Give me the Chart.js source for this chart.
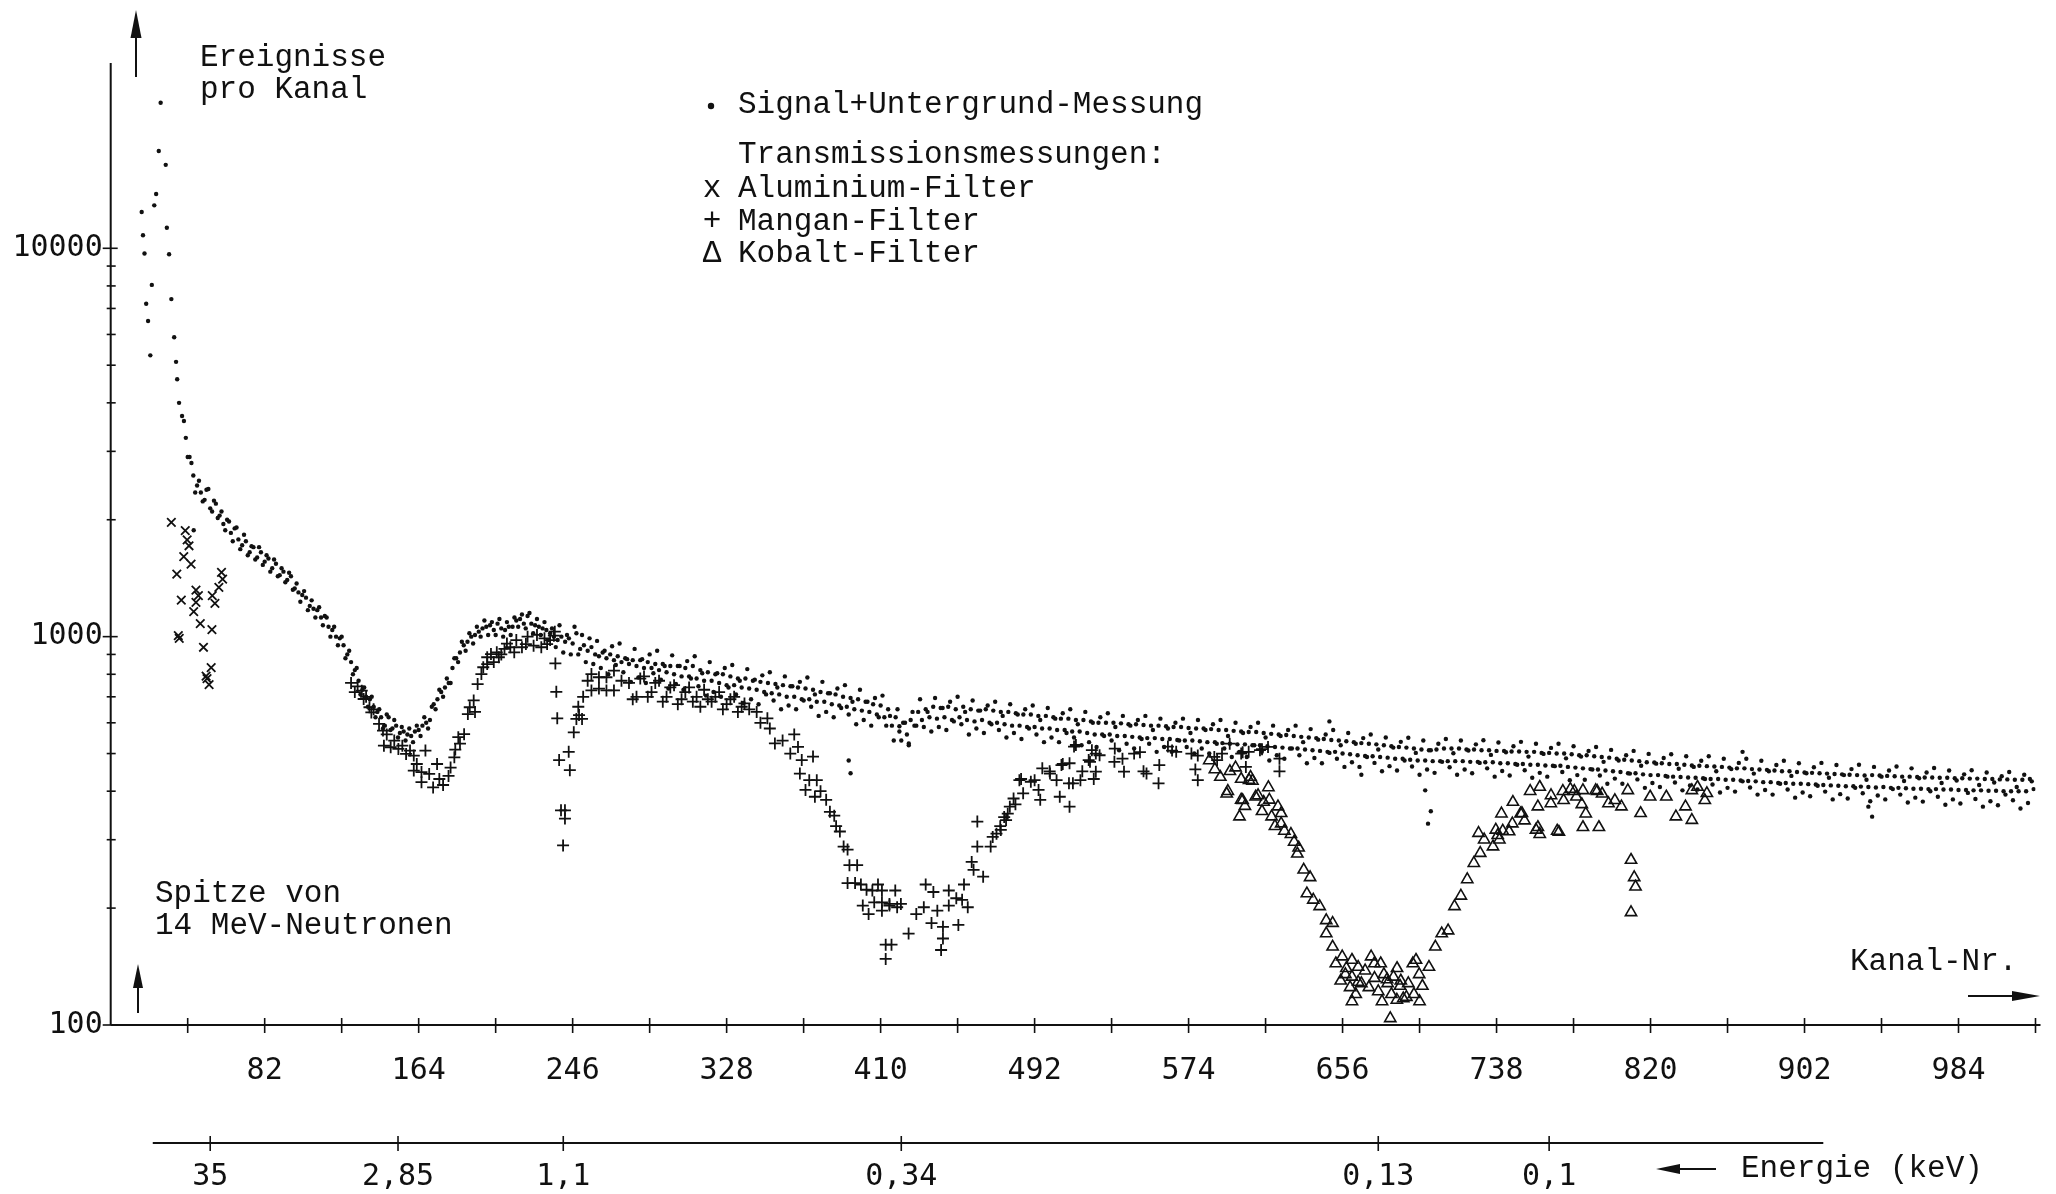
<!DOCTYPE html>
<html lang="de">
<head>
    <meta charset="UTF-8">
    <title>Ereignisse pro Kanal</title>
    <style>
        body {
            margin: 0;
            background: #fff;
        }

        canvas {
            display: block;
        }
    </style>
</head>
<body>
    <canvas id="spektrum" width="2056" height="1194"></canvas>

    <script src="https://cdn.jsdelivr.net/npm/chart.js"></script>
    <script>
        // Signal+Untergrund: Spitze (14 MeV) als Einzelpunkte
        const sigPeakCh = [16.5, 17.2, 18.0, 18.9, 19.9, 21.1, 21.9, 23.2, 24.2, 25.6, 26.6, 29.3, 29.9, 31.1, 32.3, 33.8, 34.8, 35.4, 36.4];
        const sigPeakVal = [12400, 10800, 9700, 7200, 6500, 5300, 8050, 12900, 13800, 17800, 23700, 16400, 11300, 9650, 7400, 5900, 5100, 4600, 4000];

        // Signal+Untergrund, gerade Kanaele ab 38
        const sigEvenStart = 38;
        const sigEvenVal = [
            3700, 3250, 2900, 2600, 2450, 2350, 2250, 2400, 2100, 2200,
            2050, 1950, 2000, 1850, 1900, 1780, 1720, 1760, 1650, 1700,
            1600, 1650, 1560, 1590, 1500, 1540, 1440, 1470, 1400, 1430,
            1330, 1300, 1280, 1260, 1200, 1180, 1170, 1120, 1130, 1060,
            1040, 1000, 990, 950, 900, 860, 820, 770, 730, 700,
            690, 660, 640, 620, 590, 620, 580, 590, 565, 570,
            560, 555, 570, 575, 590, 600, 610, 670, 690, 720,
            740, 760, 830, 880, 910, 950, 970, 1000, 1010, 1030,
            1050, 1060, 1070, 1040, 1080, 1050, 1040, 1060, 1060, 1100,
            1110, 1080, 1130, 1080, 1070, 1060, 1050, 1040, 1020, 1000,
            980, 1000, 970, 990, 960, 1020, 930, 950, 920, 940,
            900, 890, 910, 880, 900, 870, 890, 860, 880, 850,
            870, 840, 870, 830, 860, 830, 850, 820, 850, 810,
            840, 800, 840, 790, 830, 790, 840, 780, 820, 770,
            810, 770, 800, 760, 800, 750, 790, 750, 780, 740,
            780, 735, 770, 730, 765, 720, 760, 715, 755, 710,
            750, 700, 745, 700, 740, 690, 735, 690, 730, 680,
            720, 680, 715, 670, 710, 665, 700, 660, 695, 650,
            690, 645, 680, 640, 670, 630, 665, 620, 650, 590,
            620, 570, 600, 560, 610, 590, 640, 610, 650, 620,
            660, 615, 655, 620, 660, 610, 650, 620, 660, 610,
            650, 605, 645, 610, 650, 600, 645, 600, 640, 595,
            640, 590, 635, 590, 630, 585, 630, 585, 625, 580,
            625, 580, 620, 575, 615, 575, 615, 570, 610, 570,
            610, 565, 605, 560, 600, 560, 600, 560, 600, 555,
            598, 555, 595, 552, 595, 550, 592, 548, 590, 548,
            590, 545, 588, 545, 585, 542, 585, 540, 582, 540,
            580, 538, 580, 535, 578, 535, 575, 532, 575, 530,
            572, 528, 570, 528, 568, 525, 568, 525, 565, 522,
            562, 520, 560, 518, 558, 515, 555, 515, 552, 512,
            550, 510, 548, 508, 545, 505, 542, 505, 540, 500,
            538, 498, 535, 495, 532, 493, 530, 492, 528, 490,
            525, 488, 522, 485, 520, 485, 518, 482, 515, 480,
            512, 480, 510, 478, 512, 478, 515, 478, 515, 478,
            515, 478, 512, 476, 512, 476, 510, 475, 510, 475,
            508, 472, 508, 472, 506, 470, 506, 470, 505, 468,
            505, 468, 502, 466, 502, 465, 500, 465, 500, 462,
            498, 460, 495, 458, 495, 456, 492, 455, 490, 452,
            488, 450, 485, 448, 482, 445, 480, 445, 478, 442,
            475, 440, 474, 440, 472, 438, 470, 436, 470, 435,
            468, 434, 466, 433, 465, 432, 464, 430, 463, 430,
            462, 428, 460, 428, 458, 426, 458, 425, 456, 424,
            455, 422, 454, 422, 452, 420, 450, 420, 450, 418,
            448, 418, 447, 417, 446, 416, 445, 415, 444, 414,
            443, 413, 442, 412, 441, 412, 440, 411, 439, 410,
            440, 409, 439, 410, 438, 408, 437, 408, 436, 407,
            436, 406, 435, 406, 434, 405, 434, 405, 433, 404,
            433, 404, 432, 403, 432, 403, 431, 402, 431, 402,
            430, 401, 430, 401, 429, 400, 429, 400, 428, 400,
            428, 400, 430, 405
        ];

        // Signal+Untergrund, ungerade Kanaele ab 39
        const sigOddStart = 39;
        const sigOddVal = [
            3590, 2900, 2800, 2350, 2520, 2230, 2390, 2140, 2240, 2020,
            2100, 1880, 1980, 1760, 1910, 1680, 1830, 1620, 1710, 1580,
            1700, 1530, 1620, 1470, 1580, 1430, 1500, 1380, 1460, 1320,
            1370, 1230, 1310, 1170, 1240, 1120, 1190, 1070, 1120, 1000,
            1060, 950, 1000, 880, 920, 800, 830, 710, 740, 660,
            700, 620, 650, 580, 630, 575, 610, 550, 585, 540,
            580, 535, 590, 555, 620, 580, 660, 650, 730, 700,
            780, 760, 880, 860, 970, 920, 1020, 960, 1060, 1000,
            1100, 1010, 1090, 1010, 1110, 1000, 1090, 1010, 1120, 1060,
            1140, 1050, 1150, 1020, 1110, 1010, 1090, 980, 1050, 940,
            1070, 910, 1010, 900, 1060, 900, 1010, 860, 990, 850,
            975, 830, 920, 800, 945, 845, 960, 810, 875, 765,
            930, 785, 875, 760, 900, 805, 920, 775, 840, 735,
            895, 755, 840, 730, 865, 780, 890, 745, 805, 705,
            860, 720, 805, 700, 830, 740, 845, 710, 770, 675,
            825, 690, 775, 670, 795, 710, 810, 685, 740, 650,
            790, 665, 745, 650, 765, 685, 785, 660, 710, 625,
            765, 640, 715, 620, 735, 655, 750, 630, 680, 595,
            730, 610, 680, 590, 695, 620, 705, 590, 625, 540,
            650, 540, 600, 525, 640, 590, 690, 585, 640, 570,
            695, 585, 655, 575, 680, 605, 700, 595, 640, 560,
            685, 580, 645, 565, 665, 595, 680, 575, 625, 550,
            670, 565, 630, 545, 650, 580, 665, 560, 610, 535,
            655, 550, 615, 535, 635, 565, 650, 550, 595, 525,
            640, 535, 600, 520, 620, 555, 635, 540, 585, 510,
            625, 530, 590, 515, 610, 545, 625, 530, 575, 505,
            615, 520, 580, 505, 600, 540, 615, 520, 565, 500,
            610, 515, 575, 500, 595, 530, 610, 515, 555, 490,
            600, 505, 565, 490, 585, 525, 600, 505, 550, 480,
            590, 495, 555, 485, 575, 515, 590, 495, 535, 472,
            578, 487, 543, 472, 560, 502, 575, 485, 525, 462,
            565, 475, 530, 462, 548, 490, 560, 473, 512, 450,
            550, 464, 518, 452, 536, 480, 549, 463, 502, 441,
            540, 455, 510, 446, 530, 476, 545, 461, 501, 441,
            540, 455, 509, 445, 528, 473, 541, 458, 496, 436,
            534, 451, 504, 439, 522, 468, 536, 453, 491, 433,
            530, 446, 499, 436, 517, 464, 530, 448, 486, 427,
            522, 440, 491, 428, 508, 455, 520, 439, 476, 418,
            511, 431, 480, 418, 495, 444, 508, 429, 465, 408,
            499, 420, 471, 410, 487, 436, 498, 421, 457, 402,
            492, 414, 462, 404, 479, 430, 492, 416, 450, 397,
            485, 408, 456, 399, 473, 424, 485, 409, 444, 392,
            479, 403, 450, 392, 467, 418, 479, 404, 438, 385,
            472, 397, 445, 388, 461, 413, 473, 399, 433, 381,
            467, 393, 440, 383, 456, 408, 468, 395, 428, 377,
            462, 390, 436, 381, 452, 405, 463, 392, 425, 374,
            458, 385, 432, 376, 447, 400, 459, 387, 420, 369,
            452, 381, 426, 372, 442, 396, 453, 382, 415, 365,
            447, 377, 421, 368, 437, 392, 448, 379, 410, 361,
            441, 373, 424
        ];

        // einzelne Ausreisser der Signalmessung
        const sigStrayCh = [44.2, 393, 394, 420, 425, 649, 666, 700, 701.5, 703, 869, 936, 938];
        const sigStrayVal = [1880, 480, 445, 588, 531, 605, 441, 402, 330, 355, 505, 365, 344];

        // Aluminium-Filter
        const alCh = [32.3, 39.7, 40.7, 41.7, 38.9, 42.8, 35.2, 59, 59.6, 57.6, 45.4, 46.7, 37.6, 45.4, 54.1, 55.5, 44.2, 47.7, 53.9, 36, 36.5, 49.4, 53.5, 50.8, 51.3, 52.4];
        const alVal = [1970, 1875, 1774, 1714, 1607, 1538, 1449, 1464, 1407, 1340, 1318, 1275, 1242, 1225, 1275, 1218, 1160, 1080, 1042, 1006, 990, 939, 832, 791, 780, 752];

        // Mangan-Filter
        const mnCh = [
            128, 130, 131.5, 133.7, 134.7, 136, 137.8, 138.8, 140, 142.9, 145, 145.5,
            147, 149.1, 151, 153.2, 155.3, 157.3, 159.4, 161.4, 161.4, 163, 165.5, 165.5,
            167.6, 169.6, 171.7, 173.8, 175, 177, 179.9, 181, 183, 183.5, 185.1, 186,
            188.2, 190.2, 191.2, 193.3, 194, 195.4, 197.4, 198.4, 200.5, 200.5, 202.5, 204,
            205.6, 206.7, 208, 209.7, 211, 212.8, 214.9, 216, 219, 221.1, 222, 225.2,
            227, 229.3, 231, 232.4, 234, 236, 236.5, 236.8, 237.3, 237.8, 238.8, 239.8,
            241.9, 241.9, 240.9, 243.9, 244.5, 246.6, 248, 249, 249.4, 251, 251.6, 254,
            256, 256, 260, 260, 264, 264, 268, 268, 272, 276, 278, 280,
            282, 284, 286, 288, 290, 292, 294, 296, 298, 300, 302, 304,
            306, 308, 310, 312, 314, 316, 318, 320, 322, 324, 326, 328,
            330, 332, 334, 336, 337.5, 340, 344, 346, 349.7, 351, 353.7, 357.8,
            361.9, 364, 366, 368, 367, 372, 374, 376, 370, 375, 378, 381,
            383, 385.3, 386.3, 388.3, 390.3, 392.4, 393.4, 397.5, 392.4, 396.4, 399.5, 402.5,
            408.6, 405.6, 410.7, 417.8, 400.5, 406.6, 410.7, 414.7, 403.6, 410.7, 414.7, 418.8,
            412.7, 415.8, 412.7, 420.8, 424.9, 429, 433, 434, 438.1, 440.2, 437.1, 443.2,
            446.3, 451.4, 443.2, 442.2, 446.3, 450.3, 453.4, 454.4, 456.4, 459.5, 458.5, 461.5,
            461.5, 464.6, 468.6, 469.7, 471.7, 473.7, 474, 475.8, 476.8, 477.7, 478.8, 480.8,
            481.8, 483.9, 484.8, 485.9, 490, 492, 494.1, 495, 496.1, 500, 500.2, 503.7,
            505.4, 506.3, 507, 510.3, 510.6, 510.6, 512.4, 513, 514, 516.4, 517.4, 520.8,
            521.5, 522.5, 523.5, 524.6, 524.6, 526.6, 534.5, 534.7, 538.8, 539.6, 545, 548.1,
            550, 551.6, 558, 558.4, 563, 565.2, 567.4, 575.5, 577.6, 578.9, 578.9, 587.7,
            589.2, 591.8, 595.9, 602, 602.8, 604.5, 606, 612, 613.1, 616.3, 622.4, 622.4
        ];
        const mnVal = [
            760, 720, 745, 726, 691, 700, 658, 638, 650, 596, 573, 524,
            560, 519, 540, 514, 524, 499, 509, 494, 452, 470, 448, 422,
            509, 443, 409, 470, 430, 415, 438, 460, 489, 512, 551, 530,
            561, 632, 658, 685, 640, 755, 801, 834, 850, 885, 902, 860,
            911, 885, 900, 930, 960, 939, 911, 980, 939, 957, 1000, 948,
            1010, 939, 990, 957, 980, 1006, 1030, 853, 721, 616, 481, 357,
            357, 340, 290, 505, 453, 567, 614, 660, 628, 614, 700, 770,
            727, 801, 735, 786, 727, 786, 818, 727, 770, 760, 690, 700,
            780, 790, 700, 720, 760, 770, 680, 700, 740, 750, 670, 690,
            720, 740, 680, 700, 660, 730, 690, 680, 700, 720, 650, 670,
            690, 700, 640, 660, 673, 650, 640, 600, 616, 580, 531, 540,
            500, 560, 520, 481, 444, 427, 491, 427, 403, 387, 400, 380,
            354, 346, 325, 315, 288, 283, 258, 258, 232, 232, 230, 223,
            230, 222, 222, 222, 203, 207, 207, 205, 193, 197, 203, 201,
            161, 161, 148, 205, 172, 193, 201, 230, 220, 197, 183, 179,
            203, 181, 167, 156, 222, 212, 210, 230, 201, 251, 263, 288,
            334, 241, 288, 305, 311, 325, 318, 343, 337, 350, 365, 383,
            370, 427, 430, 395, 423, 427, 403, 380, 458, 450, 444, 427,
            387, 467, 470, 419, 365, 472, 419, 521, 526, 427, 450, 481,
            476, 510, 430, 500, 449, 495, 476, 515, 485, 449, 500, 504,
            450, 444, 419, 467, 521, 509, 505, 500, 455, 494, 427, 490,
            481, 500, 530, 500, 504, 462, 505, 510, 513, 520, 485, 450
        ];

        // Kobalt-Filter
        const coCh = [
            585, 588, 590.9, 594.3, 594.9, 596, 599, 601.1, 602, 602,
            602.8, 604, 606.2, 607, 608, 609.7, 611, 613.1, 614, 616.5,
            617, 618.2, 620, 621.6, 623.3, 623.3, 625, 628.5, 630.2, 631.9,
            632.6, 635.3, 638.7, 637, 640.4, 643.8, 647.3, 650.7, 647.3, 650.7,
            655.8, 652.4, 657.5, 661, 664.3, 661, 664.3, 671.2, 672.9, 676.3,
            678, 679.7, 683.1, 686.6, 688.3, 684.9, 693.4, 695.1, 696.8, 698.5,
            702, 705.4, 708.8, 712.2, 715.6, 719, 722.4, 725.9, 729.3, 728.4,
            731.4, 736.1, 737.6, 738.6, 739.5, 740.6, 741.3, 744.7, 746.4, 746.7,
            750.8, 751.5, 752.9, 755.9, 759, 760, 760, 761, 761, 766.9,
            767, 770.3, 771.2, 773.3, 773.7, 777.3, 779.4, 780.5, 783.4, 784,
            784, 785.5, 790.8, 791.6, 792.5, 794.2, 797.6, 801, 804.5, 807.9,
            809.6, 811.3, 812, 809.6, 814.7, 819.8, 828.4, 833.5, 838.6, 842,
            848.9, 842, 845, 850, 681.4, 661,
            655, 658, 660, 663, 666, 668, 670, 673, 675, 677, 680, 682, 685, 687, 690, 691, 694, 697
        ];
        const coVal = [
            480, 455, 435, 394, 400, 450, 460, 344, 380, 430,
            379, 366, 427, 435, 425, 387, 390, 355, 375, 409,
            380, 344, 325, 365, 330, 351, 316, 310, 296, 276,
            286, 251, 240, 218, 210, 202, 186, 183, 172, 159,
            150, 144, 135, 133, 129, 147, 141, 150, 144, 144,
            135, 131, 133, 126, 117, 116, 144, 147, 135, 126,
            141, 159, 172, 175, 202, 215, 237, 261, 277, 312,
            300, 288, 318, 308, 300, 350, 316, 315, 330, 375,
            350, 351, 336, 400, 318, 365, 323, 410, 310, 372,
            390, 316, 314, 400, 379, 405, 400, 387, 370, 323,
            402, 350, 402, 400, 323, 394, 372, 379, 365, 402,
            266, 240, 227, 195, 351, 387, 387, 344, 365, 402,
            379, 337, 410, 395, 104, 115,
            130, 140, 125, 120, 128, 138, 125, 132, 122, 115, 128, 120, 140, 130, 118, 128, 120, 115
        ];

        // Achsenbeschriftung
        const kanalStep = 41;
        const kanalLabels = [82, 164, 246, 328, 410, 492, 574, 656, 738, 820, 902, 984];
        const countLabels = [100, 1000, 10000];
        const energyLabels = ['35', '2,85', '1,1', '0,34', '0,13', '0,1'];
        const energyChannels = [53, 153, 241, 421, 675, 766];

        const legendSymbols = ['x', '+', '\u0394'];
        const legendTexts = ['Aluminium-Filter', 'Mangan-Filter', 'Kobalt-Filter'];

        const ink = '#111';
        const textFont = '31px "Liberation Mono", "Courier New", monospace';
        const numberFont = '30px "DejaVu Sans Mono", monospace';

        function toPoints(xs, ys) {
            return xs.map((c, i) => ({ x: c, y: ys[i] }));
        }

        const signalPoints = toPoints(sigPeakCh, sigPeakVal)
            .concat(sigEvenVal.map((v, i) => ({ x: sigEvenStart + i * 2, y: v })))
            .concat(sigOddVal.map((v, i) => ({ x: sigOddStart + i * 2, y: v })))
            .concat(toPoints(sigStrayCh, sigStrayVal));

        function line(ctx, x1, y1, x2, y2) {
            ctx.beginPath();
            ctx.moveTo(x1, y1);
            ctx.lineTo(x2, y2);
            ctx.stroke();
        }

        // Pfeil von (x1,y1) nach (x2,y2), Spitze gefuellt
        function arrow(ctx, x1, y1, x2, y2, len, half) {
            const a = Math.atan2(y2 - y1, x2 - x1);
            const c = Math.cos(a), s = Math.sin(a);
            line(ctx, x1, y1, x2 - c * len * 0.5, y2 - s * len * 0.5);
            ctx.beginPath();
            ctx.moveTo(x2, y2);
            ctx.lineTo(x2 - c * len - s * half, y2 - s * len + c * half);
            ctx.lineTo(x2 - c * len + s * half, y2 - s * len - c * half);
            ctx.closePath();
            ctx.fill();
        }

        // Achsen, Energieskala und Texte wie im Original gezeichnet
        const paperAxes = {
            id: 'paperAxes',
            afterDraw(chart) {
                const { ctx, chartArea, scales: { x, y } } = chart;
                const x0 = x.getPixelForValue(0);
                const yb = y.getPixelForValue(100);

                ctx.save();
                ctx.strokeStyle = ink;
                ctx.fillStyle = ink;
                ctx.lineWidth = 2;

                // Achsenlinien
                line(ctx, x0, chartArea.top, x0, yb);
                line(ctx, x0, yb, x.getPixelForValue(1025) + 5, yb);

                // Kanal-Striche
                ctx.lineWidth = 1.6;
                for (let k = kanalStep; k <= 1025; k += kanalStep) {
                    const px = x.getPixelForValue(k);
                    line(ctx, px, yb - 7, px, yb + 8);
                }

                // logarithmische Striche
                countLabels.forEach(d => {
                    const py = y.getPixelForValue(d);
                    line(ctx, x0 - 8, py, x0 + 7, py);
                    if (d < 10000) {
                        for (let m = 2; m <= 9; m++) {
                            const pm = y.getPixelForValue(d * m);
                            line(ctx, x0 - 4, pm, x0 + 5, pm);
                        }
                    }
                });

                ctx.font = numberFont;
                ctx.textBaseline = 'middle';
                ctx.textAlign = 'right';
                countLabels.forEach(d => {
                    ctx.fillText(String(d), x0 - 8, y.getPixelForValue(d));
                });

                ctx.textAlign = 'center';
                kanalLabels.forEach(k => {
                    ctx.fillText(String(k), x.getPixelForValue(k), 1071);
                });

                // Energieskala
                const ye = 1143;
                ctx.lineWidth = 2;
                line(ctx, x.getPixelForValue(22.4), ye, x.getPixelForValue(912), ye);
                ctx.lineWidth = 1.6;
                energyChannels.forEach((c, i) => {
                    const px = x.getPixelForValue(c);
                    line(ctx, px, ye - 7, px, ye + 8);
                    ctx.fillText(energyLabels[i], px, 1177);
                });

                // Pfeile
                ctx.lineWidth = 2;
                arrow(ctx, 136, 77, 136, 10, 28, 5.5);
                arrow(ctx, 138, 1013, 138, 964, 24, 5);
                arrow(ctx, 1968, 996, 2040, 996, 28, 5);
                arrow(ctx, 1716, 1169, 1656, 1169, 24, 5);

                // Texte
                ctx.font = textFont;
                ctx.textAlign = 'left';
                ctx.fillText('Ereignisse', 200, 58);
                ctx.fillText('pro Kanal', 200, 90);
                ctx.fillText('Signal+Untergrund-Messung', 738, 105);
                ctx.fillText('Transmissionsmessungen:', 738, 155);
                ctx.fillText('Spitze von', 155, 894);
                ctx.fillText('14 MeV-Neutronen', 155, 926);
                ctx.fillText('Kanal-Nr.', 1850, 962);
                ctx.fillText('Energie (keV)', 1741, 1169);

                ctx.beginPath();
                ctx.arc(711, 106, 3.2, 0, Math.PI * 2);
                ctx.fill();
                const legendY = [189, 222, 254];
                legendTexts.forEach((t, i) => {
                    ctx.textAlign = 'center';
                    ctx.fillText(legendSymbols[i], 712, legendY[i]);
                    ctx.textAlign = 'left';
                    ctx.fillText(t, 738, legendY[i]);
                });

                ctx.restore();
            }
        };

        const ctx = document.getElementById('spektrum').getContext('2d');
        new Chart(ctx, {
            type: 'scatter',
            data: {
                datasets: [{
                    label: 'Signal+Untergrund-Messung',
                    data: signalPoints,
                    pointStyle: 'circle',
                    pointRadius: 2.2,
                    backgroundColor: ink,
                    borderWidth: 0
                }, {
                    label: 'Aluminium-Filter',
                    data: toPoints(alCh, alVal),
                    pointStyle: 'crossRot',
                    pointRadius: 6,
                    borderColor: ink,
                    borderWidth: 1.8
                }, {
                    label: 'Mangan-Filter',
                    data: toPoints(mnCh, mnVal),
                    pointStyle: 'cross',
                    pointRadius: 6,
                    borderColor: ink,
                    borderWidth: 1.8
                }, {
                    label: 'Kobalt-Filter',
                    data: toPoints(coCh, coVal),
                    pointStyle: 'triangle',
                    pointRadius: 6.5,
                    borderColor: ink,
                    backgroundColor: 'rgba(0,0,0,0)',
                    borderWidth: 1.6
                }]
            },
            options: {
                responsive: false,
                animation: false,
                devicePixelRatio: 1,
                layout: {
                    padding: { left: 110.7, right: 20.5, top: 63, bottom: 169 }
                },
                scales: {
                    x: { type: 'linear', min: 0, max: 1025, display: false },
                    y: { type: 'logarithmic', min: 100, max: 30000, display: false }
                },
                plugins: {
                    legend: { display: false },
                    tooltip: { enabled: false }
                }
            },
            plugins: [paperAxes]
        });
    </script>
</body>
</html>
